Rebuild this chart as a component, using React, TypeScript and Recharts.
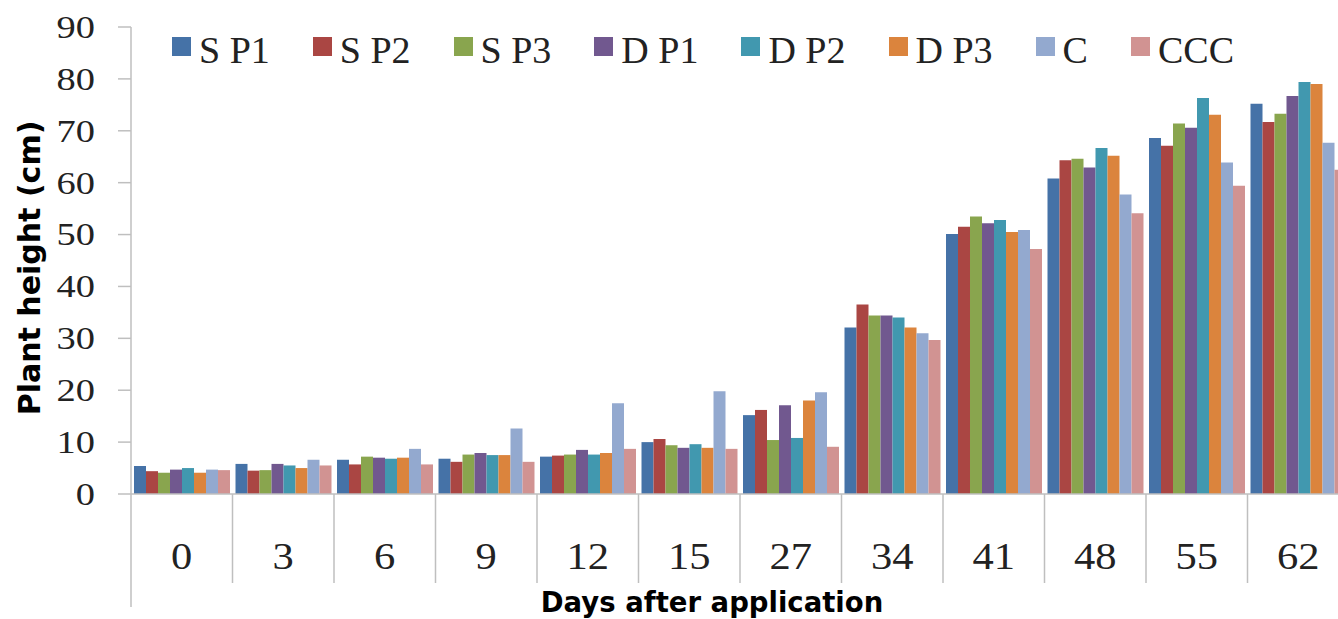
import React from 'react';
import { BarChart, Bar, XAxis, YAxis, Legend } from 'recharts';

const days = ['0', '3', '6', '9', '12', '15', '27', '34', '41', '48', '55', '62'];
const sp1 = [5.4, 5.8, 6.6, 6.8, 7.2, 10.0, 15.2, 32.1, 50.1, 60.8, 68.6, 75.2];
const sp2 = [4.4, 4.5, 5.7, 6.2, 7.4, 10.6, 16.2, 36.5, 51.5, 64.3, 67.1, 71.7];
const sp3 = [4.1, 4.6, 7.2, 7.6, 7.6, 9.4, 10.4, 34.4, 53.5, 64.6, 71.4, 73.3];
const dp1 = [4.7, 5.8, 7.0, 7.9, 8.5, 8.9, 17.1, 34.4, 52.2, 62.9, 70.6, 76.7];
const dp2 = [5.0, 5.5, 6.8, 7.5, 7.6, 9.6, 10.8, 34.0, 52.8, 66.7, 76.3, 79.4];
const dp3 = [4.1, 5.0, 7.0, 7.5, 7.9, 8.9, 18.0, 32.1, 50.5, 65.2, 73.1, 79.0];
const c = [4.7, 6.6, 8.7, 12.6, 17.5, 19.8, 19.6, 31.0, 50.9, 57.7, 63.9, 67.7];
const ccc = [4.6, 5.5, 5.7, 6.2, 8.7, 8.7, 9.1, 29.7, 47.2, 54.1, 59.4, 62.5];
const yTicks = [0, 10, 20, 30, 40, 50, 60, 70, 80, 90];

const seriesNames = ['S P1', 'S P2', 'S P3', 'D P1', 'D P2', 'D P3', 'C', 'CCC'];
const seriesValues = [sp1, sp2, sp3, dp1, dp2, dp3, c, ccc];
const seriesColors = ['#4572A7', '#AA4643', '#89A54E', '#71588F', '#4198AF', '#DB843D', '#93A9CF', '#D19392'];

const data = days.map((d, i) => {
  const row: Record<string, string | number> = { day: d };
  seriesNames.forEach((n, k) => { row[n] = seriesValues[k][i]; });
  return row;
});

const AXIS = '#BFBFBF';
const PLOT_W = 1218;
const BAND = PLOT_W / days.length;
const SERIF = '"Liberation Serif", "Times New Roman", serif';
const BOLD_SANS = '"DejaVu Sans", sans-serif';

const YTick = (props: any) => {
  const { x, y, payload } = props;
  return (
    <text
      transform={`translate(${x},${y}) scale(1.2,1)`}
      textAnchor="end"
      dy="0.34em"
      fontFamily={SERIF}
      fontSize={32}
      fill="#222"
    >
      {payload.value}
    </text>
  );
};

const XTick = (props: any) => {
  const { x, y, payload, index } = props;
  const lx = x - BAND / 2;
  return (
    <g>
      <line x1={lx} x2={lx} y1={y} y2={y + (index === 0 ? 113 : 89)} stroke={AXIS} strokeWidth={1.5} />
      <text
        transform={`translate(${x},${y + 75}) scale(1.12,1)`}
        textAnchor="middle"
        fontFamily={SERIF}
        fontSize={38}
        fill="#222"
      >
        {payload.value}
      </text>
    </g>
  );
};

const LegendContent = (props: any) => {
  const items = [...(props.payload || [])].sort(
    (a: any, b: any) => seriesNames.indexOf(a.value) - seriesNames.indexOf(b.value)
  );
  return (
    <div style={{ display: 'flex', alignItems: 'center', gap: 43, fontFamily: SERIF, fontSize: 38, lineHeight: 1, color: '#222' }}>
      {items.map((p: any) => (
        <div key={p.value} style={{ display: 'flex', alignItems: 'center' }}>
          <span style={{ display: 'inline-block', width: 19, height: 19, background: p.color, marginRight: 8, position: 'relative', top: -4 }} />
          <span>{p.value}</span>
        </div>
      ))}
    </div>
  );
};

export default function App() {
  return (
    <div style={{ position: 'absolute', left: 0, top: 0, width: 1338, height: 619, overflow: 'hidden', background: '#fff' }}>
      <BarChart
        width={1360}
        height={619}
        data={data}
        margin={{ top: 27, right: 11, left: 0, bottom: 0 }}
        barCategoryGap={3}
        barGap={0}
      >
        <XAxis
          dataKey="day"
          interval={0}
          height={125}
          tickSize={0}
          tickMargin={0}
          axisLine={{ stroke: AXIS, strokeWidth: 1.5 }}
          tickLine={false}
          tick={<XTick />}
          label={{
            content: () => (
              <text x={712} y={612} textAnchor="middle" fontFamily={BOLD_SANS} fontWeight="bold" fontSize={27.5} fill="#000">
                Days after application
              </text>
            ),
          }}
        />
        <YAxis
          width={131}
          domain={[0, 90]}
          ticks={yTicks}
          interval={0}
          tickSize={13}
          tickMargin={23}
          axisLine={{ stroke: AXIS, strokeWidth: 1.5 }}
          tickLine={{ stroke: AXIS, strokeWidth: 1.5 }}
          tick={<YTick />}
          label={{
            content: () => (
              <text
                transform="translate(29,268) rotate(-90)"
                textAnchor="middle"
                dominantBaseline="central"
                fontFamily={BOLD_SANS}
                fontWeight="bold"
                fontSize={30}
                fill="#000"
              >
                Plant height (cm)
              </text>
            ),
          }}
        />
        <Legend
          layout="horizontal"
          verticalAlign="middle"
          align="center"
          wrapperStyle={{ top: 31, left: 172, width: 'auto' }}
          content={<LegendContent />}
        />
        {seriesNames.map((n, k) => (
          <Bar key={n} dataKey={n} name={n} fill={seriesColors[k]} isAnimationActive={false} />
        ))}
      </BarChart>
    </div>
  );
}
